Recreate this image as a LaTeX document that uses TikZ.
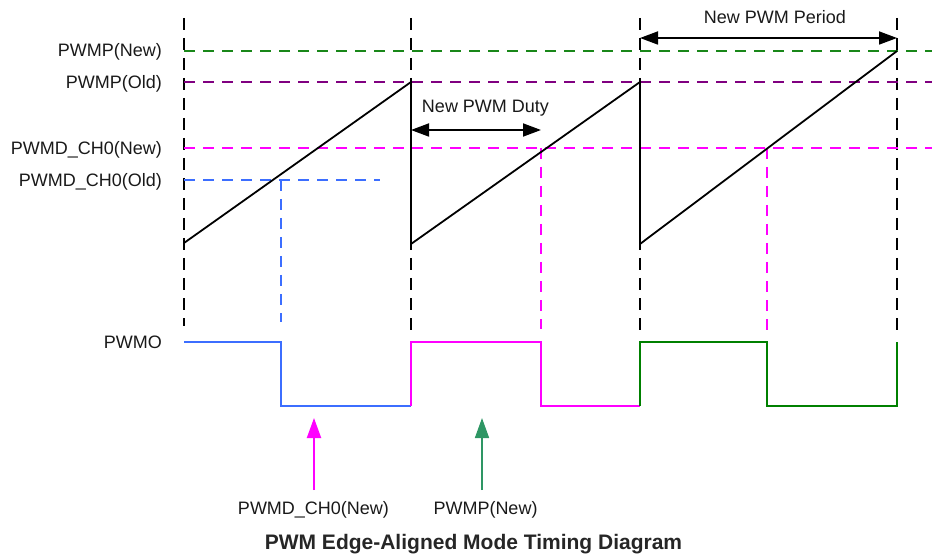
\documentclass[tikz,border=0pt]{standalone}
\usepackage{fontspec}
\setmainfont{Liberation Sans}
\usetikzlibrary{arrows.meta}
\definecolor{pgreen}{RGB}{25,135,25}
\definecolor{ppurple}{RGB}{128,0,128}
\definecolor{pmag}{RGB}{255,0,255}
\definecolor{pblue}{RGB}{60,110,255}
\definecolor{wgreen}{RGB}{0,128,0}
\definecolor{agreen}{RGB}{46,150,100}
\begin{document}
\begin{tikzpicture}[x=1pt,y=-1pt,
  lbl/.style={font=\fontsize{18}{21}\selectfont, inner sep=0pt, text=black!90},
  ttl/.style={font=\fontsize{21}{25}\selectfont\bfseries, inner sep=0pt, text=black!85},
  vdash/.style={line width=2pt, dash pattern=on 12pt off 8pt},
  hdash/.style={line width=1.6pt, dash pattern=on 11pt off 8pt},
  wave/.style={line width=2pt, line join=miter},
  saw/.style={line width=1.8pt, line join=miter},
  dim/.style={line width=1.8pt, {Triangle[length=18pt,width=13pt]}-{Triangle[length=18pt,width=13pt]}},
  uparr/.style={-{Triangle[length=20pt,width=14pt]}},
]
\useasboundingbox (0,0) rectangle (932,556);

% coordinates
\coordinate (t1) at (184,18);  \coordinate (b1) at (184,326);
\coordinate (t2) at (411,18);  \coordinate (b2) at (411,330);
\coordinate (t3) at (640,18);  \coordinate (b3) at (640,330);
\coordinate (t4) at (897,18);  \coordinate (b4) at (897,333);

% vertical black dashed lines
\draw[vdash] (t1) -- (b1);
\draw[vdash] (t2) -- (b2);
\draw[vdash] (t3) -- (b3);
\draw[vdash] (t4) -- (b4);

% horizontal reference lines
\coordinate (gnL) at (184,51);  \coordinate (gnR) at (932,51);
\coordinate (poL) at (184,82);  \coordinate (poR) at (932,82);
\coordinate (mnL) at (184,148); \coordinate (mnR) at (932,148);
\coordinate (boL) at (184,180); \coordinate (boR) at (380,180);
\draw[hdash, pgreen] (gnL) -- (gnR);
\draw[hdash, ppurple] (poL) -- (poR);
\draw[hdash, pmag] (mnL) -- (mnR);
\draw[hdash, pblue] (boL) -- (boR);

% compare-point verticals
\coordinate (bv1) at (281,180); \coordinate (bv2) at (281,322);
\coordinate (mv1) at (541,148); \coordinate (mv2) at (541,329);
\coordinate (mw1) at (767,148); \coordinate (mw2) at (767,330);
\draw[hdash, pblue] (bv1) -- (bv2);
\draw[hdash, pmag] (mv1) -- (mv2);
\draw[hdash, pmag] (mw1) -- (mw2);

% sawtooth counter
\coordinate (s0) at (184,243);
\coordinate (s1) at (411,82);
\coordinate (s2) at (411,244);
\coordinate (s3) at (640,82);
\coordinate (s4) at (640,244);
\coordinate (s5) at (897,51);
\draw[saw] (s0) -- (s1) -- (s2) -- (s3) -- (s4) -- (s5);

% PWMO waveform
\coordinate (w0) at (184,342);
\coordinate (w1) at (281,342);
\coordinate (w2) at (281,406);
\coordinate (w3) at (411,406);
\coordinate (w4) at (411,342);
\coordinate (w5) at (541,342);
\coordinate (w6) at (541,406);
\coordinate (w7) at (640,406);
\coordinate (w8) at (640,342);
\coordinate (w9) at (767,342);
\coordinate (w10) at (767,406);
\coordinate (w11) at (897,406);
\coordinate (w12) at (897,342);
\draw[wave, pblue] (w0) -- (w1) -- (w2) -- (w3);
\draw[wave, pmag] (w3) -- (w4) -- (w5) -- (w6) -- (w7);
\draw[wave, wgreen] (w7) -- (w8) -- (w9) -- (w10) -- (w11) -- (w12);

% dimension arrows
\coordinate (dL) at (411,130); \coordinate (dR) at (541,130);
\coordinate (pL) at (640,38);  \coordinate (pR) at (897,38);
\draw[dim] (dL) -- (dR);
\draw[dim] (pL) -- (pR);
\node[lbl, anchor=base] (duty) at (485.5,113) {New PWM Duty};
\node[lbl, anchor=base] (period) at (775,24) {New PWM Period};

% left labels
\node[lbl, anchor=base east] (lpn) at (162,57) {PWMP(New)};
\node[lbl, anchor=base east] (lpo) at (162,88.5) {PWMP(Old)};
\node[lbl, anchor=base east] (ldn) at (162,154.5) {PWMD\_CH0(New)};
\node[lbl, anchor=base east] (ldo) at (162,186.5) {PWMD\_CH0(Old)};
\node[lbl, anchor=base east] (lpwmo) at (162,348.5) {PWMO};

% bottom labels and arrows
\node[lbl, anchor=base] (bdn) at (313.5,514) {PWMD\_CH0(New)};
\node[lbl, anchor=base] (bpn) at (485.5,514) {PWMP(New)};
\coordinate (ad) at (314,418);
\coordinate (adb) at (314,490);
\coordinate (ap) at (482,418);
\coordinate (apb) at (482,490);
\draw[uparr, pmag, line width=2pt] (adb) -- (ad);
\draw[uparr, agreen, line width=1.6pt] (apb) -- (ap);

\node[ttl, anchor=base] (title) at (473.5,549) {PWM Edge-Aligned Mode Timing Diagram};
\end{tikzpicture}
\end{document}
